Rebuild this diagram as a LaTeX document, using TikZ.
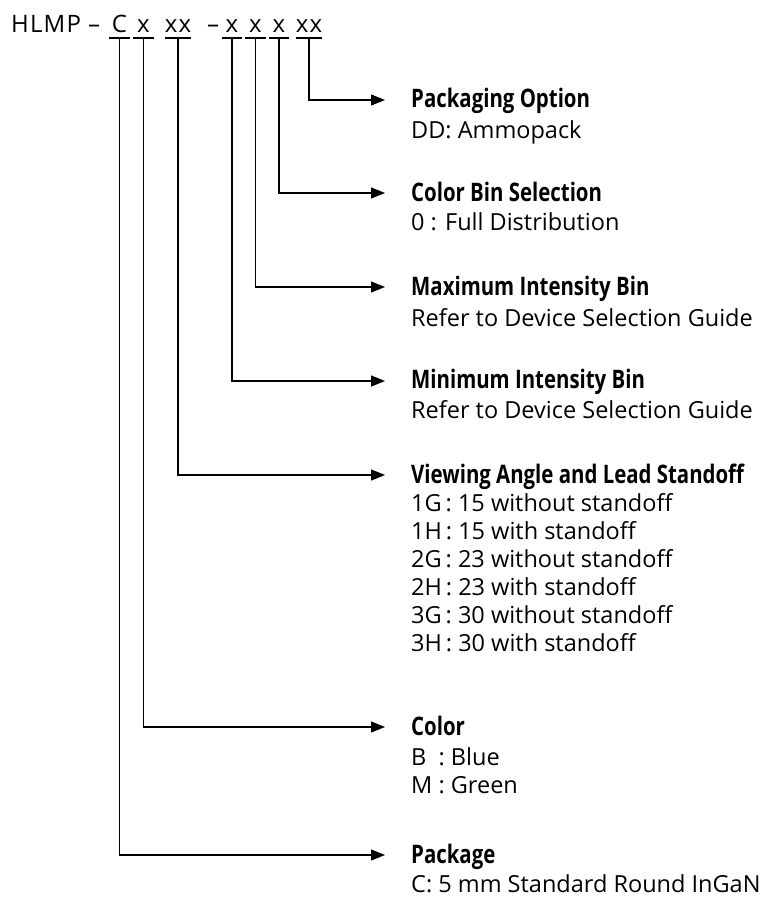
\documentclass[tikz,border=0pt]{standalone}
\usepackage{fontspec}
\setmainfont{Open Sans}
\newfontfamily\hdfont{Open Sans}[FakeStretch=0.80]
\newfontfamily\codefont{Open Sans}[LetterSpace=5]
\usetikzlibrary{arrows.meta}
\tikzset{
  conn/.style={line width=1.2pt, -{Triangle[length=14pt,width=11pt]}},
  uline/.style={line width=1.2pt},
  code/.style={font=\codefont\fontsize{24}{28}\selectfont, anchor=base, inner sep=0pt},
  head/.style={font=\hdfont\bfseries\fontsize{25.5}{28}\selectfont, anchor=base west, inner sep=0pt},
  body/.style={font=\fontsize{23.5}{28}\selectfont, anchor=base west, inner sep=0pt},
}
\begin{document}
\begin{tikzpicture}[x=1pt,y=-1pt]
\useasboundingbox (0,0) rectangle (765,897);
% part code
\node[code,anchor=base west] (hlmp) at (11,32) {HLMP};
\node[code] (d1) at (94,32) {–};
\node[code] (cC) at (119.5,32) {C};
\node[code] (cX1) at (143.5,32) {x};
\node[code] (cXX1) at (178,32) {xx};
\node[code] (d2) at (213,32) {–};
\node[code] (cX2) at (232,32) {x};
\node[code] (cX3) at (255.5,32) {x};
\node[code] (cX4) at (279,32) {x};
\node[code] (cXX2) at (309,32) {xx};
% underlines
\foreach \a/\b/\n in {109/130/uC,133/154/uX1,165/191/uXX1,222/242/uX2,245/266/uX3,269/289/uX4,296/322/uXX2}{
  \draw[uline] (\a,38) -- (\b,38);
  \coordinate (\n) at ({(\a+\b)/2},38);
}
% arrow tips
\foreach \y/\n in {100/tPO,193/tCB,287/tMax,381/tMin,475/tVA,727/tCol,855/tPkg}{
  \coordinate (\n) at (385,\y);
}
% headings
\node[head] (hPO) at (411,107) {Packaging Option};
\node[body] (bPO) at (411,138) {DD: Ammopack};
\node[head] (hCB) at (411,201) {Color Bin Selection};
\node[body] (bCB) at (411,230) {0 : Full Distribution};
\node[head] (hMax) at (411,295) {Maximum Intensity Bin};
\node[body] (bMax) at (411,326) {Refer to Device Selection Guide};
\node[head] (hMin) at (411,388) {Minimum Intensity Bin};
\node[body] (bMin) at (411,418) {Refer to Device Selection Guide};
\node[head] (hVA) at (411,483) {Viewing Angle and Lead Standoff};
\node[body] (bVA1) at (411,511) {1G\,: 15 without standoff};
\node[body] (bVA2) at (411,539) {1H\,: 15 with standoff};
\node[body] (bVA3) at (411,567) {2G\,: 23 without standoff};
\node[body] (bVA4) at (411,595) {2H\,: 23 with standoff};
\node[body] (bVA5) at (411,623) {3G\,: 30 without standoff};
\node[body] (bVA6) at (411,651) {3H\,: 30 with standoff};
\node[head] (hCol) at (411,735) {Color};
\node[body] (bCol1) at (411,765) {B\ \ : Blue};
\node[body] (bCol2) at (411,793) {M : Green};
\node[head] (hPkg) at (411,863) {Package};
\node[body] (bPkg) at (411,892) {C: 5 mm Standard Round InGaN};
% connectors
\draw[conn] (uXX2) |- (tPO);
\draw[conn] (uX4) |- (tCB);
\draw[conn] (uX3) |- (tMax);
\draw[conn] (uX2) |- (tMin);
\draw[conn] (uXX1) |- (tVA);
\draw[conn] (uX1) |- (tCol);
\draw[conn] (uC) |- (tPkg);
\end{tikzpicture}
\end{document}
